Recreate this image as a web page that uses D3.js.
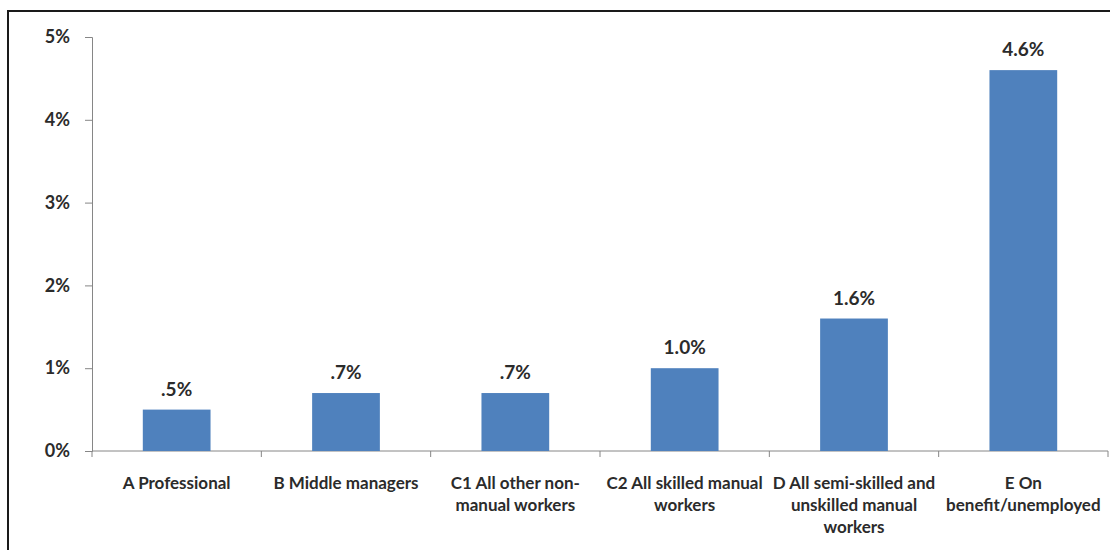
<!DOCTYPE html>
<html>
<head>
<meta charset="utf-8">
<script src="https://cdn.jsdelivr.net/npm/d3@7"></script>
<style>
  html, body { margin: 0; padding: 0; background: #fff; }
  svg text { font-family: Lato, "Open Sans", sans-serif; font-weight: bold; fill: #2b2b2b; }
</style>
</head>
<body>
<svg id="chart" width="1110" height="550"></svg>
<script>
// Social grade categories (each entry holds the wrapped label lines)
const categories = [
  ["A Professional"],
  ["B Middle managers"],
  ["C1 All other non-", "manual workers"],
  ["C2 All skilled manual", "workers"],
  ["D All semi-skilled and", "unskilled manual", "workers"],
  ["E On", "benefit/unemployed"]
];
// Share of respondents, in percent
const values = [0.5, 0.7, 0.7, 1.0, 1.6, 4.6];
const valueLabels = [".5%", ".7%", ".7%", "1.0%", "1.6%", "4.6%"];
const yTicks = [0, 1, 2, 3, 4, 5];
const yTickLabels = ["0%", "1%", "2%", "3%", "4%", "5%"];

const svg = d3.select("#chart");
const margin = { left: 92, right: 2, top: 37, bottom: 99 };
const W = 1110, H = 550;
const plotW = W - margin.left - margin.right;
const plotH = H - margin.top - margin.bottom;

// outer frame
svg.append("rect")
  .attr("x", 8).attr("y", 11)
  .attr("width", 1112).attr("height", 560)
  .attr("fill", "none").attr("stroke", "#1a1a1a").attr("stroke-width", 2);

const g = svg.append("g").attr("transform", `translate(${margin.left},${margin.top})`);

const keys = categories.map((c, i) => i);
const x = d3.scaleBand().domain(keys).range([0, plotW]).paddingInner(0.6).paddingOuter(0.3);
const xTickScale = d3.scaleLinear().domain([0, categories.length]).range([0, plotW]);
const y = d3.scaleLinear().domain([0, 5]).range([plotH, 0]);

const axisColor = "#868686";

// y axis
const yAxis = d3.axisLeft(y).tickValues(yTicks).tickFormat((d, i) => yTickLabels[i]).tickSize(7).tickPadding(15);
const yg = g.append("g").call(yAxis);
yg.select(".domain").attr("stroke", axisColor);
yg.selectAll(".tick line").attr("stroke", axisColor);
yg.selectAll(".tick text").attr("font-size", 18).attr("fill", "#2b2b2b").attr("font-family", null);

// x axis with boundary ticks between categories
const xg = g.append("g").attr("transform", `translate(0,${plotH})`);
xg.append("line").attr("x1", 0).attr("x2", plotW).attr("y1", 0).attr("y2", 0).attr("stroke", axisColor);
xg.selectAll("line.tk").data(d3.range(categories.length + 1)).join("line")
  .attr("class", "tk")
  .attr("x1", d => xTickScale(d)).attr("x2", d => xTickScale(d))
  .attr("y1", 0).attr("y2", 6).attr("stroke", axisColor);

// bars
g.selectAll("rect.bar").data(values).join("rect")
  .attr("class", "bar")
  .attr("x", (d, i) => x(i)).attr("width", x.bandwidth())
  .attr("y", d => y(d)).attr("height", d => plotH - y(d))
  .attr("fill", "#4F81BD");

// value labels
g.selectAll("text.val").data(values).join("text")
  .attr("class", "val")
  .attr("x", (d, i) => x(i) + x.bandwidth() / 2)
  .attr("y", d => y(d) - 14)
  .attr("text-anchor", "middle")
  .attr("font-size", 19)
  .text((d, i) => valueLabels[i]);

// category labels
const cat = g.selectAll("text.cat").data(categories).join("text")
  .attr("class", "cat")
  .attr("text-anchor", "middle")
  .attr("font-size", 17)
  .attr("transform", (d, i) => `translate(${x(i) + x.bandwidth() / 2},${plotH + 38})`);
cat.selectAll("tspan").data(d => d).join("tspan")
  .attr("x", 0).attr("y", (d, i) => i * 22)
  .text(d => d);
</script>
</body>
</html>
